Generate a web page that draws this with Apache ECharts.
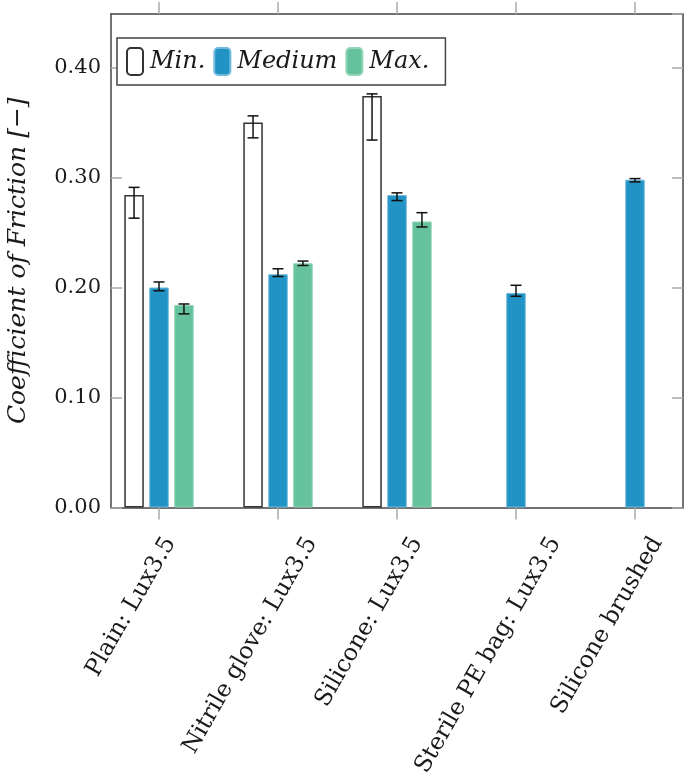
<!DOCTYPE html>
<html>
<head>
<meta charset="utf-8">
<script src="https://cdn.jsdelivr.net/npm/echarts@6/dist/echarts.min.js"></script>
<style>html,body{margin:0;padding:0;background:#fff}#c{width:685px;height:779px}</style>
</head>
<body>
<div id="c"></div>
<script>
// ---- data ----
var categories = ['Plain: Lux3.5', 'Nitrile glove: Lux3.5', 'Silicone: Lux3.5', 'Sterile PE bag: Lux3.5', 'Silicone brushed'];
var seriesNames = ['Min.', 'Medium', 'Max.'];
// bar values (null = no bar)
var minValues    = [0.284, 0.350, 0.374, null, null];
var mediumValues = [0.200, 0.212, 0.284, 0.195, 0.298];
var maxValues    = [0.184, 0.222, 0.260, null, null];
// error bar lower / upper ends
var minErrLow     = [0.263, 0.336, 0.334, null, null];
var minErrHigh    = [0.291, 0.356, 0.376, null, null];
var mediumErrLow  = [0.197, 0.210, 0.279, 0.192, 0.296];
var mediumErrHigh = [0.205, 0.217, 0.286, 0.202, 0.299];
var maxErrLow     = [0.176, 0.220, 0.255, null, null];
var maxErrHigh    = [0.185, 0.224, 0.268, null, null];
var yTicks = [0, 0.1, 0.2, 0.3, 0.4];

// ---- styling ----
var FONT = 'DejaVu Serif';
var LABEL_FS = 23.5;
var LABEL_ROT = 60;
var BAR_W = 19.5;
var BAR_GAP_PCT = 28;
var colors = ['#ffffff', '#2193c4', '#65c29c'];
var borders = ['#333333', '#6fb9dc', '#93d5b8'];

function barData(vals) {
  var out = [];
  for (var i = 0; i < vals.length; i++) if (vals[i] != null) out.push([i, vals[i]]);
  return out;
}
function errData(lo, hi) {
  var out = [];
  for (var i = 0; i < lo.length; i++) if (lo[i] != null) out.push([i, lo[i], hi[i]]);
  return out;
}
var valueSets = [minValues, mediumValues, maxValues];
var errSets = [[minErrLow, minErrHigh], [mediumErrLow, mediumErrHigh], [maxErrLow, maxErrHigh]];

// tick-label placement like pgfplots (bounding box of rotated label centred under tick)
var mctx = document.createElement('canvas').getContext('2d');
mctx.font = LABEL_FS + 'px "' + FONT + '"';
var LABEL_MARGIN = 0;
var rich = {};
(function () {
  var a = LABEL_ROT * Math.PI / 180;
  var ux = Math.cos(a), uy = -Math.sin(a);      // baseline direction
  var wx = Math.sin(a), wy = Math.cos(a);       // text "down" direction
  for (var i = 0; i < categories.length; i++) {
    var len = mctx.measureText(categories[i]).width;
    var dx = -27.7;
    var dy = 25.5 + 0.5 * (Math.sin(a) * len + Math.cos(a) * LABEL_FS) - LABEL_MARGIN;
    var p = dx * ux + dy * uy;
    var q = dx * wx + dy * wy;
    rich['c' + i] = {
      fontFamily: FONT, fontSize: LABEL_FS, color: '#1a1a1a',
      padding: [q > 0 ? 2 * q : 0, p < 0 ? -2 * p : 0, q < 0 ? -2 * q : 0, p > 0 ? 2 * p : 0]
    };
  }
})();

var series = [];
for (var s = 0; s < 3; s++) {
  series.push({
    name: seriesNames[s],
    type: 'bar',
    barWidth: BAR_W,
    barGap: BAR_GAP_PCT + '%',
    data: barData(valueSets[s]),
    itemStyle: { color: colors[s], borderColor: borders[s], borderWidth: s === 0 ? 1.5 : 1 },
    emphasis: { disabled: true },
    z: 2
  });
}
for (var s2 = 0; s2 < 3; s2++) {
  (function (idx) {
    var offset = (idx - 1) * BAR_W * (1 + BAR_GAP_PCT / 100);
    series.push({
      type: 'custom',
      data: errData(errSets[idx][0], errSets[idx][1]),
      z: 5,
      silent: true,
      renderItem: function (params, api) {
        var x = api.value(0);
        var pLo = api.coord([x, api.value(1)]);
        var pHi = api.coord([x, api.value(2)]);
        var cx = pLo[0] + offset;
        var cap = 5.5;
        var st = { stroke: '#111', lineWidth: 1.5 };
        return {
          type: 'group',
          children: [
            { type: 'line', shape: { x1: cx, y1: pLo[1], x2: cx, y2: pHi[1] }, style: st },
            { type: 'line', shape: { x1: cx - cap, y1: pLo[1], x2: cx + cap, y2: pLo[1] }, style: st },
            { type: 'line', shape: { x1: cx - cap, y1: pHi[1], x2: cx + cap, y2: pHi[1] }, style: st }
          ]
        };
      }
    });
  })(s2);
}

var xIdx = [0, 1, 2, 3, 4];
var frame = { show: true, onZero: false, lineStyle: { color: '#444', width: 1.5 } };
var chart = echarts.init(document.getElementById('c'), null, { renderer: 'canvas' });
chart.setOption({
  animation: false,
  backgroundColor: '#fff',
  grid: { left: 111, right: 2, top: 14, bottom: 271.5, outerBoundsMode: 'none', containLabel: false },
  legend: {
    data: seriesNames,
    left: 117, top: 38,
    orient: 'horizontal',
    itemWidth: 16, itemHeight: 27, itemGap: 8,
    padding: [9, 16, 9, 9],
    borderColor: '#444', borderWidth: 1.5,
    backgroundColor: '#fff',
    selectedMode: false,
    textStyle: { fontFamily: FONT, fontStyle: 'italic', fontSize: 24, color: '#1a1a1a', padding: [0, 0, 0, 2] }
  },
  xAxis: [{
    type: 'value',
    min: -0.4034, max: 4.4034,
    splitLine: { show: false },
    axisLine: frame,
    axisTick: { show: true, inside: false, length: 12, customValues: xIdx, lineStyle: { color: '#aaa', width: 1.5 } },
    axisLabel: {
      customValues: xIdx,
      rotate: LABEL_ROT,
      margin: LABEL_MARGIN,
      align: 'center',
      verticalAlign: 'middle',
      fontFamily: FONT, fontSize: LABEL_FS, color: '#1a1a1a',
      rich: rich,
      formatter: function (v) { var i = Math.round(v); return '{c' + i + '|' + categories[i] + '}'; }
    }
  }, {
    type: 'value', position: 'top',
    min: -0.4034, max: 4.4034,
    splitLine: { show: false },
    axisLine: frame,
    axisTick: { show: true, inside: false, length: 12, customValues: xIdx, lineStyle: { color: '#aaa', width: 1.5 } },
    axisLabel: { show: false }
  }],
  yAxis: [{
    type: 'value',
    min: 0, max: 0.4486, interval: 0.1,
    splitLine: { show: false },
    axisLine: frame,
    axisTick: { show: true, inside: true, length: 11, lineStyle: { color: '#aaa', width: 1.5 } },
    axisLabel: { margin: 10, fontFamily: FONT, fontSize: 21, color: '#1a1a1a', formatter: function (v) { return v.toFixed(2); }, showMaxLabel: false },
    name: 'Coefficient of Friction [\u2212]',
    nameLocation: 'middle',
    nameRotate: 90,
    nameGap: 80,
    nameTextStyle: { fontFamily: FONT, fontStyle: 'italic', fontSize: 25, color: '#1a1a1a' }
  }, {
    type: 'value', position: 'right',
    min: 0, max: 0.4486, interval: 0.1,
    splitLine: { show: false },
    axisLine: frame,
    axisTick: { show: true, inside: true, length: 11, lineStyle: { color: '#aaa', width: 1.5 } },
    axisLabel: { show: false }
  }],
  series: series
});
</script>
</body>
</html>
